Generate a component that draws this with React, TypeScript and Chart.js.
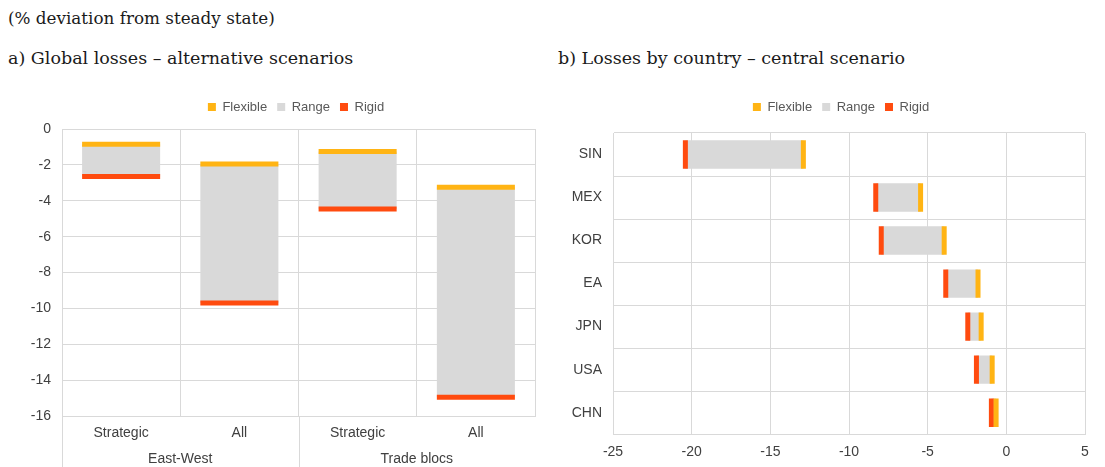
import React, { useEffect, useRef } from "react";
import { Chart, registerables } from "chart.js";

Chart.register(...registerables);

// ---------- data ----------
// panel a) Global losses – alternative scenarios
const scenarioLabels = ["Strategic", "All", "Strategic", "All"];
const scenarioGroups = ["East-West", "Trade blocs"];
const scenarioFlexible = [-0.85, -1.95, -1.25, -3.25];
const scenarioRigid = [-2.65, -9.7, -4.45, -14.95];
const scenarioMin = -16;
const scenarioMax = 0;
const scenarioStep = 2;

// panel b) Losses by country – central scenario
const countries = ["SIN", "MEX", "KOR", "EA", "JPN", "USA", "CHN"];
const countryFlexible = [-12.9, -5.45, -3.95, -1.8, -1.6, -0.9, -0.65];
const countryRigid = [-20.4, -8.3, -7.95, -3.85, -2.45, -1.9, -0.95];
const countryMin = -25;
const countryMax = 5;
const countryStep = 5;

const seriesNames = ["Flexible", "Range", "Rigid"];

// ---------- style ----------
const FLEX = "#FFB414";
const RIGID = "#FF4B0F";
const RANGE = "#D9D9D9";
const GRID = "#D9D9D9";
const TEXT = "#404040";
const LEGEND_TEXT = "#595959";
const FONT = "'Liberation Sans', Arial, sans-serif";
const LEGEND_SIZE = 13;
const TICK_SIZE = 14;
const BAR_FRACTION = 0.66;
const MARKER_WIDTH = 5;

function markerRadius(horizontal: boolean, n: number) {
  return (ctx: any) => {
    const s = horizontal ? ctx.chart.scales.y : ctx.chart.scales.x;
    if (!s) return 0;
    const len = horizontal ? s.height : s.width;
    return (len / n) * BAR_FRACTION / 2;
  };
}

function markerDataset(label: string, data: number[], color: string, horizontal: boolean, n: number, order: number) {
  const r = markerRadius(horizontal, n);
  return {
    type: "line" as const,
    label,
    data,
    order,
    indexAxis: horizontal ? "y" : "x",
    xAxisID: "x",
    yAxisID: "y",
    showLine: false,
    backgroundColor: color,
    borderColor: color,
    borderWidth: 0,
    pointStyle: "line",
    pointBorderColor: color,
    pointBackgroundColor: color,
    pointBorderWidth: MARKER_WIDTH,
    pointHoverBorderWidth: MARKER_WIDTH,
    pointRotation: horizontal ? 90 : 0,
    pointRadius: r,
    pointHoverRadius: r,
  };
}

function rangeDataset(flex: number[], rigid: number[], horizontal: boolean) {
  return {
    type: "bar" as const,
    label: seriesNames[1],
    data: flex.map((f, i) => [f, rigid[i]]),
    order: 2,
    indexAxis: horizontal ? "y" : "x",
    xAxisID: "x",
    yAxisID: "y",
    backgroundColor: RANGE,
    borderWidth: 0,
    borderSkipped: false,
    barPercentage: 0.825,
    categoryPercentage: 0.8,
  };
}

const legendOptions = {
  display: true,
  position: "top" as const,
  labels: {
    boxWidth: 8,
    boxHeight: 8,
    color: LEGEND_TEXT,
    font: { family: FONT, size: LEGEND_SIZE },
    padding: 10,
    sort: (a: any, b: any) => a.datasetIndex - b.datasetIndex,
  },
};

const tickFont = { family: FONT, size: TICK_SIZE };

function spacer(axis: "x" | "y", position: string, size: number) {
  return {
    type: "linear",
    axis,
    position,
    grid: { display: false, drawTicks: false },
    ticks: { display: false },
    border: { display: false },
    afterFit: (s: any) => {
      if (axis === "x") s.height = size;
      else s.width = size;
    },
  };
}

const groupPlugin = {
  id: "groupLabels",
  afterDraw(chart: any) {
    const { ctx, chartArea } = chart;
    const xs = chart.scales.x;
    const per = scenarioLabels.length / scenarioGroups.length;
    const cw = xs.width / scenarioLabels.length;
    ctx.save();
    ctx.strokeStyle = GRID;
    ctx.lineWidth = 1;
    ctx.fillStyle = TEXT;
    ctx.font = `${TICK_SIZE}px ${FONT}`;
    ctx.textAlign = "center";
    ctx.textBaseline = "middle";
    scenarioGroups.forEach((g, i) => {
      const left = xs.left + i * per * cw;
      const lx = Math.round(left) + 0.5;
      ctx.beginPath();
      ctx.moveTo(lx, chartArea.bottom);
      ctx.lineTo(lx, chart.height);
      ctx.stroke();
      ctx.fillText(g, left + (per * cw) / 2, chartArea.bottom + 43);
    });
    ctx.restore();
  },
};

function ScenarioChart() {
  const ref = useRef<HTMLCanvasElement>(null);
  useEffect(() => {
    const n = scenarioLabels.length;
    const chart = new Chart(ref.current!, {
      type: "bar",
      data: {
        labels: scenarioLabels,
        datasets: [
          markerDataset(seriesNames[0], scenarioFlexible, FLEX, false, n, 0),
          rangeDataset(scenarioFlexible, scenarioRigid, false),
          markerDataset(seriesNames[2], scenarioRigid, RIGID, false, n, 1),
        ] as any,
      },
      options: {
        responsive: false,
        animation: false,
        layout: { padding: { left: 22, right: 0, top: 6.5, bottom: 16 } },
        plugins: { legend: legendOptions, tooltip: { enabled: false } },
        scales: {
          x: {
            type: "category",
            offset: true,
            grid: { color: GRID, drawTicks: false, offset: true },
            border: { color: GRID },
            ticks: { color: TEXT, font: tickFont, padding: 9, maxRotation: 0, autoSkip: false },
          },
          y: {
            type: "linear",
            min: scenarioMin,
            max: scenarioMax,
            ticks: { stepSize: scenarioStep, color: TEXT, font: tickFont, padding: 11 },
            grid: { color: GRID, drawTicks: false },
            border: { color: GRID },
            afterFit: (s: any) => {
              s.width = 40;
            },
          },
          spacerTop: spacer("x", "top", 5.5),
          spacerRight: spacer("y", "right", 35),
        } as any,
      },
      plugins: [groupPlugin],
    });
    return () => chart.destroy();
  }, []);
  return <canvas ref={ref} width={570} height={383} style={{ width: 570, height: 383, display: "block" }} />;
}

function CountryChart() {
  const ref = useRef<HTMLCanvasElement>(null);
  useEffect(() => {
    const n = countries.length;
    const chart = new Chart(ref.current!, {
      type: "bar",
      data: {
        labels: countries,
        datasets: [
          markerDataset(seriesNames[0], countryFlexible, FLEX, true, n, 0),
          rangeDataset(countryFlexible, countryRigid, true),
          markerDataset(seriesNames[2], countryRigid, RIGID, true, n, 1),
        ] as any,
      },
      options: {
        indexAxis: "y",
        responsive: false,
        animation: false,
        layout: { padding: { left: 19, right: 0, top: 6.5, bottom: 0 } },
        plugins: { legend: legendOptions, tooltip: { enabled: false } },
        scales: {
          x: {
            type: "linear",
            min: countryMin,
            max: countryMax,
            ticks: { stepSize: countryStep, color: TEXT, font: tickFont, padding: 10 },
            grid: { color: GRID, drawTicks: false },
            border: { color: GRID },
          },
          y: {
            type: "category",
            offset: true,
            grid: { color: GRID, drawTicks: false, offset: true },
            border: { color: GRID },
            ticks: { color: TEXT, font: tickFont, padding: 11, autoSkip: false },
            afterFit: (s: any) => {
              s.width = 44;
            },
          },
          spacerTop: spacer("x", "top", 9.5),
          spacerRight: spacer("y", "right", 28),
        } as any,
      },
    });
    return () => chart.destroy();
  }, []);
  return <canvas ref={ref} width={563} height={387} style={{ width: 563, height: 387, display: "block" }} />;
}

const titleStyle: React.CSSProperties = {
  position: "absolute",
  fontFamily: "'DejaVu Serif', serif",
  fontSize: 17.5,
  lineHeight: "20px",
  color: "#1a1a1a",
  whiteSpace: "nowrap",
};

export default function App() {
  return (
    <div style={{ position: "absolute", left: 0, top: 0, width: 1105, height: 467, background: "#fff", overflow: "hidden" }}>
      <div style={{ ...titleStyle, left: 8, top: 8, fontSize: 16.8 }}>(% deviation from steady state)</div>
      <div style={{ ...titleStyle, left: 8, top: 48 }}>a) Global losses – alternative scenarios</div>
      <div style={{ ...titleStyle, left: 558, top: 48 }}>b) Losses by country – central scenario</div>
      <div style={{ position: "absolute", left: 0, top: 84 }}>
        <ScenarioChart />
      </div>
      <div style={{ position: "absolute", left: 550, top: 84 }}>
        <CountryChart />
      </div>
    </div>
  );
}
